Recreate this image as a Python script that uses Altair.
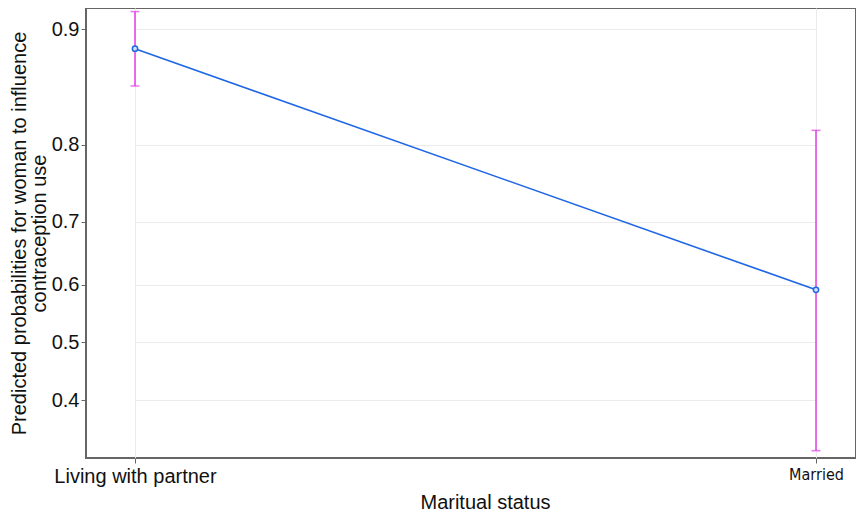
import altair as alt
import numpy as np
import pandas as pd

categories = ["Living with partner", "Married"]
estimate = [0.887, 0.591]
lower = [0.858, 0.3185]
upper = [0.9106, 0.8157]

tick_labels = [0.4, 0.5, 0.6, 0.7, 0.8, 0.9]
tick_pos = [float(np.log(p / (1 - p))) for p in tick_labels]

df = pd.DataFrame({"status": categories, "p": estimate, "lo": lower, "hi": upper})

base = alt.Chart(df).transform_calculate(
    lp="log(datum.p/(1-datum.p))",
    llo="log(datum.lo/(1-datum.lo))",
    lhi="log(datum.hi/(1-datum.hi))",
)

xenc = alt.X(
    "status:N",
    sort=categories,
    scale=alt.Scale(type="point", padding=0, range=[49, 730]),
    axis=alt.Axis(
        title="Maritual status",
        titleFontSize=20,
        titleFontWeight="normal",
        titlePadding=6,
        titleX=399,
        labelAngle=0,
        labelFontSize=alt.condition("datum.value == 'Married'", alt.value(16), alt.value(20)),
        labelFont=alt.condition(
            "datum.value == 'Married'",
            alt.value("'DejaVu Sans Condensed', 'Liberation Sans Narrow', 'Liberation Sans'"),
            alt.value("Liberation Sans"),
        ),
        labelPadding=3,
        tickSize=5,
        grid=True,
    ),
)

yscale = alt.Scale(domain=[-0.812, 2.346], nice=False, zero=False)
yaxis = alt.Axis(
    title=["Predicted probabilities for woman to influence", "contraception use"],
    titleFontSize=20,
    titleFontWeight="normal",
    titleLineHeight=20,
    titlePadding=2,
    values=tick_pos,
    labelExpr="format(1/(1+exp(-datum.value)), '.1f')",
    labelFontSize=20,
    labelPadding=2,
    tickSize=5,
    grid=True,
)

err = base.mark_rule(color="#e23ce8", strokeWidth=1.5).encode(
    x=xenc,
    y=alt.Y("llo:Q", scale=yscale, axis=yaxis),
    y2="lhi:Q",
)
cap_lo = base.mark_tick(color="#e23ce8", thickness=1.5, size=9).encode(x=xenc, y=alt.Y("llo:Q", scale=yscale))
cap_hi = base.mark_tick(color="#e23ce8", thickness=1.5, size=9).encode(x=xenc, y=alt.Y("lhi:Q", scale=yscale))
line = base.mark_line(color="#1f66e5", strokeWidth=1.6).encode(x=xenc, y=alt.Y("lp:Q", scale=yscale))
pts = base.mark_point(color="#1f66e5", fill="#cfe0fb", filled=False, size=28, strokeWidth=1.5, opacity=1).encode(
    x=xenc, y=alt.Y("lp:Q", scale=yscale)
)

chart = (
    alt.layer(err, cap_lo, cap_hi, line, pts)
    .properties(
        width=770,
        height=450,
        autosize=alt.AutoSizeParams(type="none"),
        padding={"left": 78, "top": 0, "right": 0, "bottom": 54},
    )
    .configure(font="Liberation Sans")
    .configure_view(stroke="#666666", strokeWidth=2)
    .configure_axis(
        gridColor="#ebebeb",
        gridWidth=1,
        tickColor="#666666",
        domain=False,
        labelColor="#111111",
        titleColor="#111111",
    )
)

chart.save("out.html", embed_options={"renderer": "svg", "actions": False})
